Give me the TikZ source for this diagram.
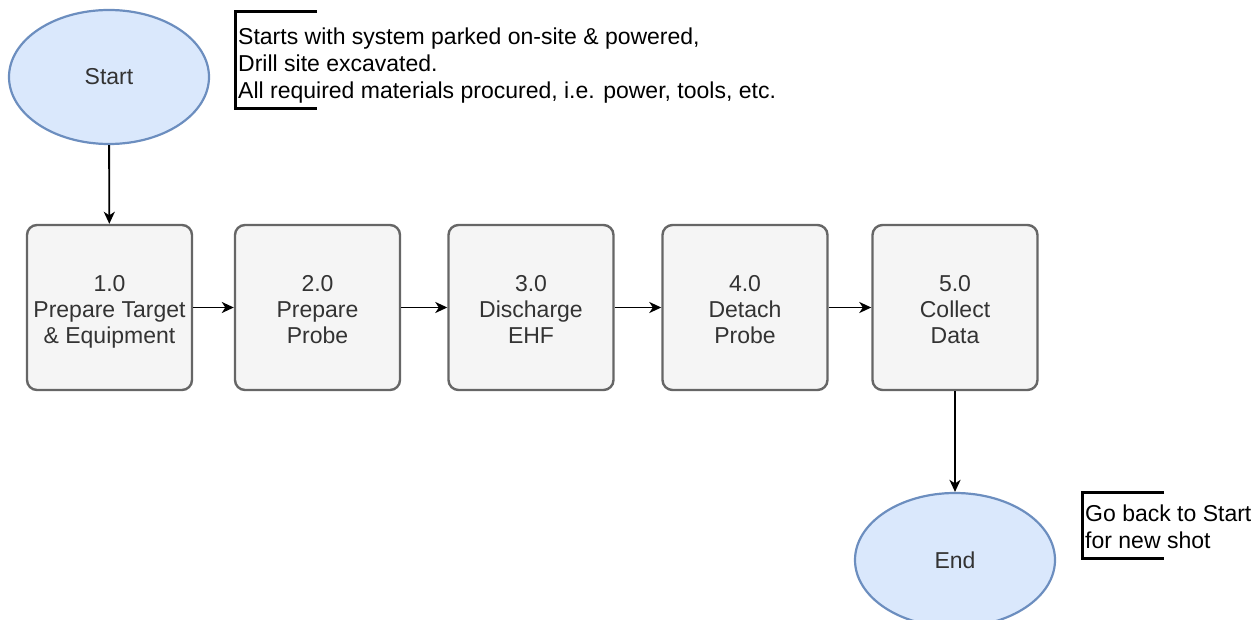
\documentclass[tikz,border=0pt]{standalone}
\usepackage{fontspec}
\setmainfont{Liberation Sans}
\usetikzlibrary{shapes.geometric,arrows.meta}
\definecolor{termfill}{HTML}{DAE8FC}
\definecolor{termline}{HTML}{6C8EBF}
\definecolor{stepfill}{HTML}{F5F5F5}
\definecolor{stepline}{HTML}{666666}
\definecolor{steptext}{HTML}{333333}
\tikzset{
  terminal/.style={ellipse, draw=termline, fill=termfill, line width=2.2pt,
    minimum width=200pt, minimum height=134pt, inner sep=0pt, text=steptext,
    font=\fontsize{23}{26}\selectfont},
  stepbox/.style={rectangle, rounded corners=10pt, draw=stepline, fill=stepfill,
    line width=2.4pt, minimum width=165pt, minimum height=165pt, inner sep=0pt},
  % three-line caption of a step, struts keep every box's lines at the same height
  steplabel/.style={align=center, text=steptext, inner sep=0pt, yshift=-6.3pt,
    font=\fontsize{23}{26}\selectfont,
    execute at begin node=\strut, execute at end node=\strut},
  flow/.style={line width=1.9pt, -{Stealth[length=12pt,width=11pt,inset=3.5pt]}},
  note/.style={anchor=west, align=left, inner sep=0pt,
    font=\fontsize{23}{27}\selectfont},
  bracket/.style={line width=3pt}
}
\begin{document}
\begin{tikzpicture}[x=1pt,y=-1pt]
\useasboundingbox (0,0) rectangle (1260,620);

% terminals
\node[terminal] (start) at (109,77) {Start};
\node[terminal] (end) at (955,560) {End};

% process steps
\node[stepbox, label={[steplabel]center:{1.0\\Prepare Target\\\& Equipment}}] (s1) at (109.5,307.5) {};
\node[stepbox, label={[steplabel]center:{2.0\\Prepare\\Probe}}] (s2) at (317.5,307.5) {};
\node[stepbox, label={[steplabel]center:{3.0\\Discharge\\EHF}}] (s3) at (531,307.5) {};
\node[stepbox, label={[steplabel]center:{4.0\\Detach\\Probe}}] (s4) at (745,307.5) {};
\node[stepbox, label={[steplabel]center:{5.0\\Collect\\Data}}] (s5) at (955,307.5) {};

% connectors
\draw[flow] (start) -- (s1);
\draw[flow] (s1) -- (s2);
\draw[flow] (s2) -- (s3);
\draw[flow] (s3) -- (s4);
\draw[flow] (s4) -- (s5);
\draw[flow] (s5) -- (end);

% annotation at the start
\coordinate (b1a) at (317,12);
\coordinate (b1b) at (235,12);
\coordinate (b1c) at (235,109);
\coordinate (b1d) at (317,109);
\draw[bracket] (b1a) -- (b1b) -- (b1c) -- (b1d);
\node[note] (n1) at (238,65.5) {Starts with system parked on-site \& powered,\\Drill site excavated.\\All required materials procured, i.e. power, tools, etc.};

% annotation at the end
\coordinate (b2a) at (1164,492);
\coordinate (b2b) at (1082,492);
\coordinate (b2c) at (1082,558);
\coordinate (b2d) at (1164,558);
\draw[bracket] (b2a) -- (b2b) -- (b2c) -- (b2d);
\node[note] (n2) at (1085,526.5) {Go back to Start\\for new shot};
\end{tikzpicture}
\end{document}
